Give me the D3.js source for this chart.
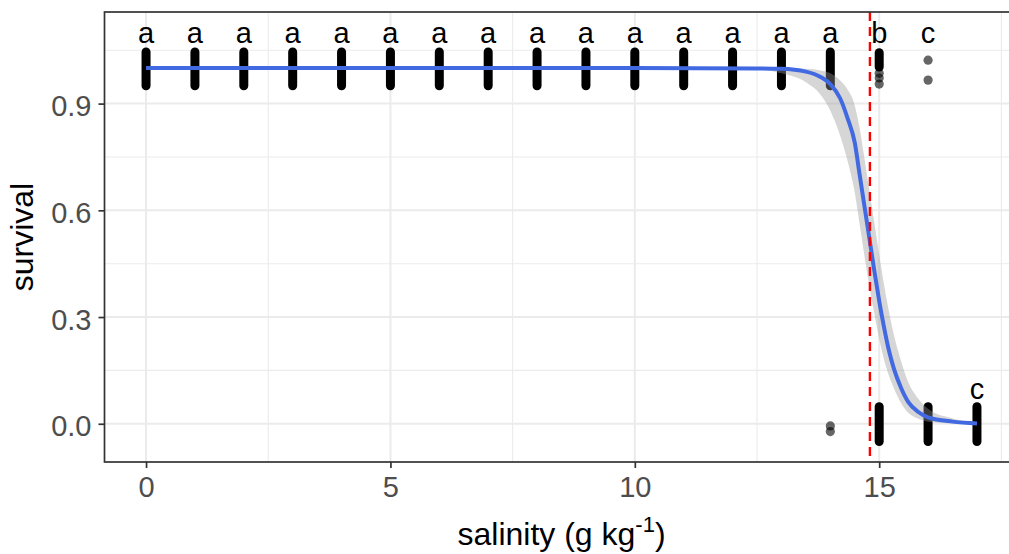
<!DOCTYPE html>
<html>
<head>
<meta charset="utf-8">
<script src="https://cdn.jsdelivr.net/npm/d3@7"></script>
<style>
  html, body { margin: 0; padding: 0; background: #fff; }
  svg { display: block; font-family: "Liberation Sans", Arial, sans-serif; }
</style>
</head>
<body>
<svg id="chart" width="1009" height="554"></svg>
<script>
// Salinity groups and the spread of jittered survival observations in each
const groupSalinity = [0, 1, 2, 3, 4, 5, 6, 7, 8, 9, 10, 11, 12, 13, 14, 15, 15, 16, 17];
const groupLow      = [0.95, 0.95, 0.95, 0.95, 0.95, 0.95, 0.95, 0.95, 0.95, 0.95, 0.95, 0.95, 0.95, 0.95, 0.95, 1.003, -0.05, -0.05, -0.05];
const groupHigh     = [1.045, 1.045, 1.045, 1.045, 1.045, 1.045, 1.045, 1.045, 1.045, 1.045, 1.045, 1.045, 1.045, 1.045, 1.045, 1.043, 0.048, 0.048, 0.048];

// Sparse single observations
const singleSalinity = [14, 14, 15, 15, 15, 16, 16];
const singleSurvival = [-0.006, -0.022, 0.985, 0.972, 0.955, 1.022, 0.966];

// Fitted logistic survival curve with its confidence band
const fitSalinity = [0, 5, 10, 12.5, 13.0, 13.5, 13.8, 14.0, 14.2, 14.35, 14.5, 14.6, 14.7, 14.8, 14.9, 15.0, 15.1, 15.2, 15.3, 15.45, 15.6, 15.8, 16.0, 16.5, 17];
const fitSurvival = [1, 1, 1, 0.999, 0.998, 0.99, 0.975, 0.955, 0.915, 0.86, 0.79, 0.70, 0.61, 0.52, 0.43, 0.345, 0.27, 0.205, 0.155, 0.10, 0.06, 0.033, 0.018, 0.006, 0.001];
const fitLower    = [1, 1, 1, 0.997, 0.985, 0.96, 0.925, 0.88, 0.81, 0.74, 0.65, 0.56, 0.47, 0.385, 0.31, 0.24, 0.18, 0.135, 0.10, 0.058, 0.03, 0.014, 0.006, 0.001, 0];
const fitUpper    = [1, 1, 1, 1, 1, 0.998, 0.993, 0.985, 0.965, 0.94, 0.895, 0.83, 0.745, 0.655, 0.565, 0.475, 0.39, 0.315, 0.25, 0.175, 0.115, 0.07, 0.042, 0.015, 0.005];

// LC50 threshold
const thresholdSalinity = 14.81;

// Significance letters
const letterSalinity = [0, 1, 2, 3, 4, 5, 6, 7, 8, 9, 10, 11, 12, 13, 14, 15, 16, 17];
const letterText     = ["a","a","a","a","a","a","a","a","a","a","a","a","a","a","a","b","c","c"];
const letterY        = [1.1, 1.1, 1.1, 1.1, 1.1, 1.1, 1.1, 1.1, 1.1, 1.1, 1.1, 1.1, 1.1, 1.1, 1.1, 1.1, 1.1, 0.1];

// Axis ticks
const xTicks = [0, 5, 10, 15];
const xMinor = [2.5, 7.5, 12.5, 17.5];
const yTicks = [0, 0.3, 0.6, 0.9];
const yMinor = [0.15, 0.45, 0.75, 1.05];

const svg = d3.select("#chart");
const panel = { left: 104.5, right: 1018.5, top: 12, bottom: 462 };

const x = d3.scaleLinear().domain([-0.85, 17.85]).range([panel.left, panel.right]);
const y = d3.scaleLinear().domain([-0.1075, 1.1575]).range([panel.bottom, panel.top]);

svg.append("defs").append("clipPath").attr("id", "panelClip")
  .append("rect")
  .attr("x", panel.left).attr("y", panel.top)
  .attr("width", panel.right - panel.left).attr("height", panel.bottom - panel.top);

const plot = svg.append("g").attr("clip-path", "url(#panelClip)");

// Grid
const grid = plot.append("g");
grid.selectAll(".xminor").data(xMinor).join("line")
  .attr("x1", d => x(d)).attr("x2", d => x(d))
  .attr("y1", panel.top).attr("y2", panel.bottom)
  .attr("stroke", "#EBEBEB").attr("stroke-width", 1.1);
grid.selectAll(".yminor").data(yMinor).join("line")
  .attr("x1", panel.left).attr("x2", panel.right)
  .attr("y1", d => y(d)).attr("y2", d => y(d))
  .attr("stroke", "#EBEBEB").attr("stroke-width", 1.1);
grid.selectAll(".xmajor").data(xTicks).join("line")
  .attr("x1", d => x(d)).attr("x2", d => x(d))
  .attr("y1", panel.top).attr("y2", panel.bottom)
  .attr("stroke", "#EBEBEB").attr("stroke-width", 2);
grid.selectAll(".ymajor").data(yTicks).join("line")
  .attr("x1", panel.left).attr("x2", panel.right)
  .attr("y1", d => y(d)).attr("y2", d => y(d))
  .attr("stroke", "#EBEBEB").attr("stroke-width", 2);

// Jittered observations: dense columns drawn as stacks of overlapping points
const groups = groupSalinity.map((s, i) => ({ s, lo: groupLow[i], hi: groupHigh[i] }));
plot.append("g").selectAll("line").data(groups).join("line")
  .attr("x1", d => x(d.s)).attr("x2", d => x(d.s))
  .attr("y1", d => y(d.lo)).attr("y2", d => y(d.hi))
  .attr("stroke", "#000").attr("stroke-width", 9)
  .attr("stroke-linecap", "round");

const singles = singleSalinity.map((s, i) => ({ s, v: singleSurvival[i] }));
plot.append("g").selectAll("circle").data(singles).join("circle")
  .attr("cx", d => x(d.s)).attr("cy", d => y(d.v)).attr("r", 4.6)
  .attr("fill", "#000").attr("fill-opacity", 0.6);

// Confidence band and fitted curve
const fit = fitSalinity.map((s, i) => ({ s, v: fitSurvival[i], lo: fitLower[i], hi: fitUpper[i] }));
plot.append("path").datum(fit)
  .attr("d", d3.area().x(d => x(d.s)).y0(d => y(d.lo)).y1(d => y(d.hi)).curve(d3.curveMonotoneX))
  .attr("fill", "#999999").attr("fill-opacity", 0.4);
plot.append("path").datum(fit)
  .attr("d", d3.line().x(d => x(d.s)).y(d => y(d.v)).curve(d3.curveMonotoneX))
  .attr("fill", "none").attr("stroke", "#4169E1").attr("stroke-width", 4);

// Threshold line
plot.append("line")
  .attr("x1", x(thresholdSalinity)).attr("x2", x(thresholdSalinity))
  .attr("y1", panel.top).attr("y2", panel.bottom)
  .attr("stroke", "#FF0000").attr("stroke-width", 2.4)
  .attr("stroke-dasharray", "9,6");

// Letters
plot.append("g").selectAll("text").data(letterSalinity.map((s, i) => ({ s, t: letterText[i], v: letterY[i] })))
  .join("text")
  .attr("x", d => x(d.s)).attr("y", d => y(d.v)).attr("dy", "0.38em")
  .attr("text-anchor", "middle").attr("font-size", 29).attr("fill", "#000")
  .text(d => d.t);

// Panel border
svg.append("rect")
  .attr("x", panel.left).attr("y", panel.top)
  .attr("width", panel.right - panel.left).attr("height", panel.bottom - panel.top)
  .attr("fill", "none").attr("stroke", "#333333").attr("stroke-width", 1.7);

// Axes
const xAxis = svg.append("g").attr("transform", `translate(0,${panel.bottom})`)
  .call(d3.axisBottom(x).tickValues(xTicks).tickFormat(d3.format("d")).tickSize(6).tickPadding(8));
const yAxis = svg.append("g").attr("transform", `translate(${panel.left},0)`)
  .call(d3.axisLeft(y).tickValues(yTicks).tickFormat(d3.format(".1f")).tickSize(6).tickPadding(7));
[xAxis, yAxis].forEach(a => {
  a.select(".domain").remove();
  a.selectAll(".tick line").attr("stroke", "#333333").attr("stroke-width", 1.7);
  a.selectAll(".tick text").attr("fill", "#4D4D4D").attr("font-size", 29)
    .attr("font-family", "'Liberation Sans', Arial, sans-serif");
});
yAxis.selectAll(".tick text").attr("dy", "0.42em");

// Axis titles
const xTitle = svg.append("text")
  .attr("x", (panel.left + panel.right) / 2).attr("y", 545)
  .attr("text-anchor", "middle").attr("font-size", 32).attr("fill", "#000");
xTitle.append("tspan").text("salinity (g kg");
xTitle.append("tspan").attr("font-size", 22).attr("dy", -13).text("-1");
xTitle.append("tspan").attr("dy", 13).text(")");

svg.append("text")
  .attr("transform", `translate(33,${(panel.top + panel.bottom) / 2}) rotate(-90)`)
  .attr("text-anchor", "middle").attr("font-size", 32).attr("fill", "#000")
  .text("survival");
</script>
</body>
</html>
